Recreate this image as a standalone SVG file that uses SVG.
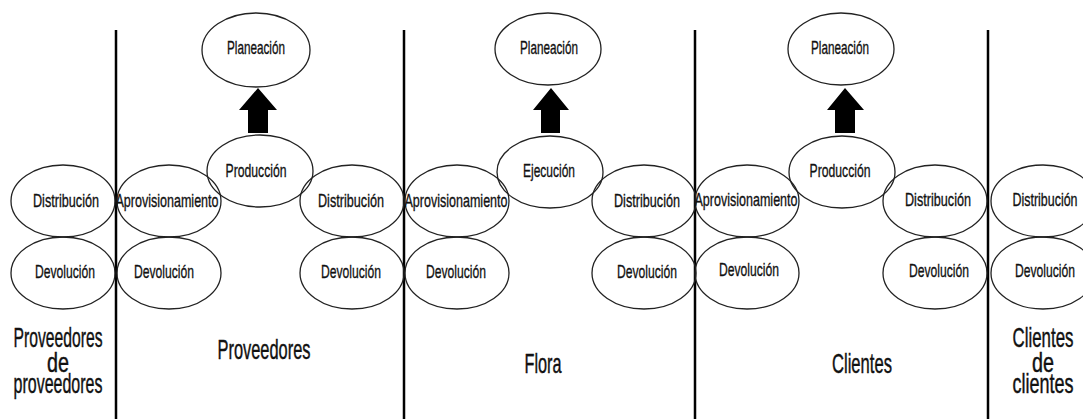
<svg xmlns="http://www.w3.org/2000/svg" width="1083" height="419" viewBox="0 0 1083 419">
<style>
.n ellipse{fill:none;stroke:#222;stroke-width:1.3}
.n text{font-family:"Liberation Sans",Arial,sans-serif;font-size:19px;fill:#111;stroke:#111;stroke-width:0.35;text-anchor:middle}
.big{font-family:"Liberation Sans",Arial,sans-serif;font-size:28px;fill:#111;stroke:#111;stroke-width:0.45;text-anchor:middle}
.div{stroke:#000;stroke-width:2.5}
.arr{fill:#000}
</style>
<rect width="1083" height="419" fill="#fff"/>
<g id="dividers">
<line class="div" x1="116" y1="30" x2="116" y2="419"/>
<line class="div" x1="404" y1="30" x2="404" y2="419"/>
<line class="div" x1="695" y1="30" x2="695" y2="419"/>
<line class="div" x1="988" y1="30" x2="988" y2="419"/>
</g>
<g id="c1-distribucion" class="n"><ellipse cx="63" cy="201" rx="52" ry="36"/><text x="66" y="207" textLength="66" lengthAdjust="spacingAndGlyphs">Distribución</text></g>
<g id="c1-devolucion" class="n"><ellipse cx="63" cy="273" rx="52" ry="36"/><text x="65" y="278" textLength="60" lengthAdjust="spacingAndGlyphs">Devolución</text></g>

<g id="c2-aprov" class="n"><ellipse cx="169" cy="201" rx="52" ry="36"/><text x="167" y="207" textLength="103" lengthAdjust="spacingAndGlyphs">Aprovisionamiento</text></g>
<g id="c2-devolucion" class="n"><ellipse cx="169" cy="273" rx="52" ry="36"/><text x="164" y="278" textLength="60" lengthAdjust="spacingAndGlyphs">Devolución</text></g>
<g id="c2-produccion" class="n"><ellipse cx="260" cy="171" rx="53" ry="36"/><text x="256" y="177" textLength="61" lengthAdjust="spacingAndGlyphs">Producción</text></g>
<g id="c2-planeacion" class="n"><ellipse cx="256" cy="50" rx="54" ry="37"/><text x="256" y="54" textLength="58" lengthAdjust="spacingAndGlyphs">Planeación</text></g>
<g id="c2-distribucion" class="n"><ellipse cx="352" cy="201" rx="52" ry="36"/><text x="351" y="207" textLength="66" lengthAdjust="spacingAndGlyphs">Distribución</text></g>
<g id="c2-devolucion2" class="n"><ellipse cx="352" cy="273" rx="52" ry="36"/><text x="351" y="278" textLength="60" lengthAdjust="spacingAndGlyphs">Devolución</text></g>

<g id="c3-aprov" class="n"><ellipse cx="457" cy="201" rx="52" ry="36"/><text x="456" y="207" textLength="103" lengthAdjust="spacingAndGlyphs">Aprovisionamiento</text></g>
<g id="c3-devolucion" class="n"><ellipse cx="457" cy="273" rx="52" ry="36"/><text x="456" y="278" textLength="60" lengthAdjust="spacingAndGlyphs">Devolución</text></g>
<g id="c3-ejecucion" class="n"><ellipse cx="550" cy="172" rx="53" ry="36"/><text x="549" y="177" textLength="52" lengthAdjust="spacingAndGlyphs">Ejecución</text></g>
<g id="c3-planeacion" class="n"><ellipse cx="548" cy="49" rx="53" ry="36"/><text x="549" y="54" textLength="58" lengthAdjust="spacingAndGlyphs">Planeación</text></g>
<g id="c3-distribucion" class="n"><ellipse cx="644" cy="201" rx="52" ry="36"/><text x="647" y="207" textLength="66" lengthAdjust="spacingAndGlyphs">Distribución</text></g>
<g id="c3-devolucion2" class="n"><ellipse cx="644" cy="273" rx="52" ry="36"/><text x="647" y="278" textLength="60" lengthAdjust="spacingAndGlyphs">Devolución</text></g>

<g id="c4-aprov" class="n"><ellipse cx="747" cy="201" rx="52" ry="36"/><text x="746" y="206" textLength="103" lengthAdjust="spacingAndGlyphs">Aprovisionamiento</text></g>
<g id="c4-devolucion" class="n"><ellipse cx="747" cy="273" rx="52" ry="36"/><text x="749" y="276" textLength="60" lengthAdjust="spacingAndGlyphs">Devolución</text></g>
<g id="c4-produccion" class="n"><ellipse cx="842" cy="172" rx="53" ry="36"/><text x="840" y="177" textLength="61" lengthAdjust="spacingAndGlyphs">Producción</text></g>
<g id="c4-planeacion" class="n"><ellipse cx="841" cy="49" rx="53" ry="36"/><text x="840" y="54" textLength="58" lengthAdjust="spacingAndGlyphs">Planeación</text></g>
<g id="c4-distribucion" class="n"><ellipse cx="935" cy="201" rx="52" ry="36"/><text x="938" y="206" textLength="66" lengthAdjust="spacingAndGlyphs">Distribución</text></g>
<g id="c4-devolucion2" class="n"><ellipse cx="935" cy="273" rx="52" ry="36"/><text x="939" y="277" textLength="60" lengthAdjust="spacingAndGlyphs">Devolución</text></g>

<g id="c5-distribucion" class="n"><ellipse cx="1043" cy="201" rx="52" ry="36"/><text x="1045" y="206" textLength="65" lengthAdjust="spacingAndGlyphs">Distribución</text></g>
<g id="c5-devolucion" class="n"><ellipse cx="1043" cy="273" rx="52" ry="36"/><text x="1045" y="277" textLength="60" lengthAdjust="spacingAndGlyphs">Devolución</text></g>

<g id="connectors">
<polygon class="arr" points="258,88 277,110 268,110 268,133 248,133 248,110 239,110"/>
<polygon class="arr" points="551,88 569,110 560,110 560,133 541,133 541,110 533,110"/>
<polygon class="arr" points="845,88 864,110 855,110 855,133 835,133 835,110 827,110"/>
</g>

<g id="labels">
<text class="big" x="58" y="347" textLength="89" lengthAdjust="spacingAndGlyphs">Proveedores</text>
<text class="big" x="58" y="372" textLength="22" lengthAdjust="spacingAndGlyphs">de</text>
<text class="big" x="58" y="393" textLength="89" lengthAdjust="spacingAndGlyphs">proveedores</text>
<text class="big" x="264" y="359" textLength="93" lengthAdjust="spacingAndGlyphs">Proveedores</text>
<text class="big" x="543" y="373" textLength="37" lengthAdjust="spacingAndGlyphs">Flora</text>
<text class="big" x="862" y="373" textLength="60" lengthAdjust="spacingAndGlyphs">Clientes</text>
<text class="big" x="1043" y="347" textLength="61" lengthAdjust="spacingAndGlyphs">Clientes</text>
<text class="big" x="1043" y="372" textLength="22" lengthAdjust="spacingAndGlyphs">de</text>
<text class="big" x="1043" y="393" textLength="61" lengthAdjust="spacingAndGlyphs">clientes</text>
</g>
</svg>
